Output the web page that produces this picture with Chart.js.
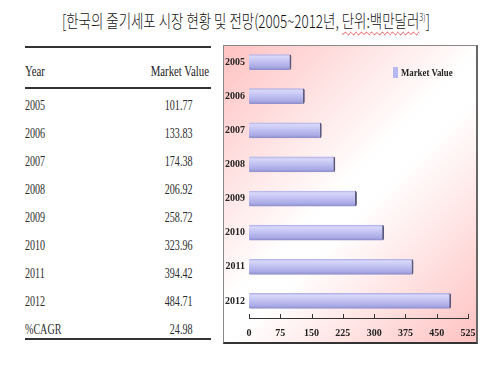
<!DOCTYPE html>
<html>
<head>
<meta charset="utf-8">
<script src="https://cdn.jsdelivr.net/npm/chart.js@4.4.0/dist/chart.umd.min.js"></script>
<style>
    body {
        margin: 0;
        width: 500px;
        height: 369px;
        background: #fff;
        position: relative;
        overflow: hidden;
        font-family: 'Liberation Serif', serif;
        color: #2b2b2b;
    }
    #title {
        position: absolute;
        left: 62px;
        top: 8px;
        white-space: nowrap;
        font-family: 'Noto Sans CJK KR', sans-serif;
        font-size: 18px;
        font-weight: 300;
        line-height: 24px;
        color: #111;
        transform-origin: 0 50%;
    }
    #title sup {
        font-size: 10px;
        line-height: 0;
    }
    .spell {
        text-decoration: underline wavy #e04040;
        text-decoration-thickness: 1px;
        text-underline-offset: 3px;
    }
    .rule {
        position: absolute;
        left: 25px;
        width: 186px;
        height: 2px;
        background: #333;
    }
    .row {
        position: absolute;
        left: 25px;
        width: 186px;
        height: 16px;
        font-size: 14px;
        line-height: 16px;
        white-space: nowrap;
    }
    .row .k {
        position: absolute;
        left: 0;
        transform: scaleX(0.72);
        transform-origin: 0 50%;
    }
    .row .v {
        position: absolute;
        right: 19px;
        transform: scaleX(0.72);
        transform-origin: 100% 50%;
    }
    .row.head {
        font-size: 15px;
        color: #222;
    }
    .row.head .v {
        right: 2px;
    }
    #panel {
        position: absolute;
        left: 223px;
        top: 45px;
        width: 252px;
        height: 296px;
        border: 1px solid #888;
        border-right: 2px solid #666;
        border-bottom: 2px solid #333;
        background: linear-gradient(135deg, #ffc2c2 0%, #fff 48%, #fff 55%, #ffc2c2 100%);
    }
    #chart {
        position: absolute;
        left: 223px;
        top: 35px;
    }
    #legend {
        position: absolute;
        left: 393px;
        top: 65px;
        height: 15px;
        white-space: nowrap;
        font-weight: bold;
        font-size: 11px;
        line-height: 15px;
        color: #222;
    }
    #legend .box {
        position: absolute;
        left: 0;
        top: 2px;
        width: 5px;
        height: 11px;
        background: #b8b8f0;
    }
    #legend .txt {
        position: absolute;
        left: 8px;
        top: 0;
        transform: scaleX(0.8);
        transform-origin: 0 50%;
    }
</style>
</head>
<body>
<div id="title">[한국의 줄기세포 시장 현황 및 전망(2005~2012년, <span class="spell">단위:백만달러</span><sup>3)</sup>]</div>
<div id="table"></div>
<div id="panel"></div>
<canvas id="chart" width="254" height="308"></canvas>
<div id="legend"><div class="box"></div><div class="txt">Market Value</div></div>

<script>
// Data
const years = ['2005', '2006', '2007', '2008', '2009', '2010', '2011', '2012'];
const marketValue = [101.77, 133.83, 174.38, 206.92, 258.72, 323.96, 394.42, 484.71];
const cagrLabel = '%CAGR';
const cagrValue = 24.98;
const seriesName = 'Market Value';
const xTicks = [0, 75, 150, 225, 300, 375, 450, 525];

// Squeeze the title to the reference width
const title = document.getElementById('title');
title.style.transform = 'scaleX(' + (368 / title.offsetWidth) + ')';

// Build the table
function addRule(y) {
    const r = document.createElement('div');
    r.className = 'rule';
    r.style.top = y + 'px';
    document.body.appendChild(r);
}

function addRow(y, key, value, cls) {
    const row = document.createElement('div');
    row.className = 'row' + (cls ? ' ' + cls : '');
    row.style.top = (y - 8) + 'px';
    const k = document.createElement('span');
    k.className = 'k';
    k.textContent = key;
    const v = document.createElement('span');
    v.className = 'v';
    v.textContent = value;
    row.appendChild(k);
    row.appendChild(v);
    document.getElementById('table').appendChild(row);
}

addRule(46);
addRow(71, 'Year', seriesName, 'head');
addRule(87);
years.forEach((y, i) => {
    addRow(106 + i * 28, y, marketValue[i].toFixed(2));
});
addRow(106 + years.length * 28, cagrLabel, cagrValue.toFixed(2));
addRule(338);

// Small tick marks pointing up into the plot
const innerTicks = {
    id: 'innerTicks',
    afterDraw(chart) {
        const x = chart.scales.x;
        const ctx = chart.ctx;
        ctx.save();
        ctx.strokeStyle = '#333';
        ctx.lineWidth = 1;
        x.ticks.forEach(t => {
            const px = Math.round(x.getPixelForValue(t.value)) + 0.5;
            ctx.beginPath();
            ctx.moveTo(px, x.top);
            ctx.lineTo(px, x.top - 4);
            ctx.stroke();
        });
        ctx.restore();
    }
};

// Cylinder-like shading for each bar
function barFill(c) {
    const chart = c.chart;
    const yScale = chart.scales.y;
    if (!yScale || c.dataIndex === undefined) return '#b8b8ec';
    const cy = yScale.getPixelForValue(c.dataIndex);
    if (!isFinite(cy)) return '#b8b8ec';
    const g = chart.ctx.createLinearGradient(0, cy - 8, 0, cy + 8);
    g.addColorStop(0, '#a8a8e0');
    g.addColorStop(0.15, '#d8d8fa');
    g.addColorStop(0.4, '#c6c6f4');
    g.addColorStop(0.8, '#aaaae6');
    g.addColorStop(1, '#8a8ac8');
    return g;
}

const ctx = document.getElementById('chart').getContext('2d');
const chart = new Chart(ctx, {
    type: 'bar',
    data: {
        labels: years,
        datasets: [{
            label: seriesName,
            data: marketValue,
            backgroundColor: barFill,
            borderColor: '#5a5a80',
            borderWidth: { left: 0, top: 0, bottom: 0, right: 2 },
            borderSkipped: false,
            borderRadius: { topRight: 2, bottomRight: 2, topLeft: 1, bottomLeft: 1 },
            barPercentage: 0.46,
            categoryPercentage: 1
        }]
    },
    options: {
        indexAxis: 'y',
        responsive: false,
        animation: false,
        layout: {
            padding: { top: 5, right: 0, left: 0, bottom: 0 }
        },
        scales: {
            x: {
                min: 0,
                max: 525,
                afterBuildTicks: (scale) => {
                    scale.ticks = xTicks.map(v => ({ value: v }));
                },
                afterFit: (scale) => {
                    scale.height = 25;
                    scale.paddingRight = 9;
                },
                grid: { display: false, drawTicks: false },
                border: { display: true, color: '#333', width: 1 },
                ticks: {
                    padding: 9,
                    color: '#222',
                    font: { family: 'Liberation Serif', size: 10, weight: 'bold' }
                }
            },
            y: {
                afterFit: (scale) => { scale.width = 26; },
                grid: { display: false, drawTicks: false },
                border: { display: false },
                ticks: {
                    padding: 4,
                    color: '#222',
                    font: { family: 'Liberation Serif', size: 10, weight: 'bold' }
                }
            }
        },
        plugins: {
            legend: { display: false },
            tooltip: { enabled: false }
        }
    },
    plugins: [innerTicks]
});
chart.update();
</script>
</body>
</html>
